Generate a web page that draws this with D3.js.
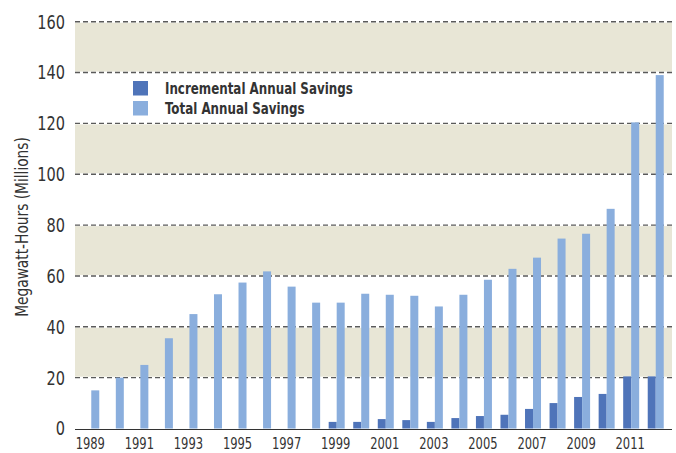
<!DOCTYPE html>
<html>
<head>
<meta charset="utf-8">
<script src="https://cdn.jsdelivr.net/npm/d3@7"></script>
<style>
  body { margin: 0; background: #fff; }
  svg text { font-family: "DejaVu Sans Condensed", "Liberation Sans Narrow", "Arial Narrow", sans-serif; fill: #333; }
</style>
</head>
<body>
<script>
var years = d3.range(1989, 2013);
var incremental = [0, 0, 0, 0, 0, 0, 0, 0, 0, 0, 2.6, 2.6, 3.7, 3.3, 2.6, 4.1, 4.9, 5.4, 7.7, 10, 12.4, 13.6, 20.5, 20.5];
var total = [15, 20, 25, 35.5, 45, 52.8, 57.4, 61.8, 55.8, 49.5, 49.5, 53, 52.6, 52.2, 48, 52.6, 58.5, 62.8, 67.2, 74.7, 76.6, 86.4, 120.4, 139];
var yTicks = [0, 20, 40, 60, 80, 100, 120, 140, 160];
var seriesNames = ["Incremental Annual Savings", "Total Annual Savings"];
var colors = ["#4f74b9", "#8aaedd"];

var width = 676, height = 453;
var plotLeft = 75, plotRight = 672;

var svg = d3.select("body").append("svg")
    .attr("width", width)
    .attr("height", height);

var x = d3.scaleBand()
    .domain(years)
    .range([79, 668])
    .padding(0);

var y = d3.scaleLinear()
    .domain([0, 160])
    .range([428.5, 21.7]);

var barW = 8;

// shaded bands
var bands = [[20, 40], [60, 80], [100, 120], [140, 160]];
svg.append("g").selectAll("rect")
    .data(bands)
  .enter().append("rect")
    .attr("x", plotLeft)
    .attr("width", plotRight - plotLeft)
    .attr("y", function(d) { return y(d[1]) + 1; })
    .attr("height", function(d) { return y(d[0]) - y(d[1]) - 2; })
    .attr("fill", "#e8e6d6");

// dashed grid lines
svg.append("g").selectAll("line")
    .data(yTicks.filter(function(d) { return d > 0; }))
  .enter().append("line")
    .attr("x1", plotLeft)
    .attr("x2", plotRight)
    .attr("y1", function(d) { return y(d); })
    .attr("y2", function(d) { return y(d); })
    .attr("stroke", "#5a5a5a")
    .attr("stroke-width", 1.4)
    .attr("stroke-dasharray", "5,3");

// bars
var groups = svg.append("g").selectAll("g")
    .data(years)
  .enter().append("g")
    .attr("transform", function(d) { return "translate(" + (x(d) + x.bandwidth() / 2) + ",0)"; });

groups.append("rect")
    .attr("x", -barW)
    .attr("width", barW)
    .attr("y", function(d, i) { return y(incremental[i]); })
    .attr("height", function(d, i) { return y(0) - y(incremental[i]); })
    .attr("fill", colors[0]);

groups.append("rect")
    .attr("x", 0)
    .attr("width", barW)
    .attr("y", function(d, i) { return y(total[i]); })
    .attr("height", function(d, i) { return y(0) - y(total[i]); })
    .attr("fill", colors[1]);

// baseline
svg.append("line")
    .attr("x1", plotLeft)
    .attr("x2", plotRight)
    .attr("y1", Math.round(y(0)) + 0.5)
    .attr("y2", Math.round(y(0)) + 0.5)
    .attr("stroke", "#333")
    .attr("stroke-width", 1.2);

// y tick labels (narrowed to match the condensed face)
svg.append("g").selectAll("text")
    .data(yTicks)
  .enter().append("text")
    .attr("transform", function(d) { return "translate(65," + y(d) + ") scale(0.85,1)"; })
    .attr("dy", "0.36em")
    .attr("text-anchor", "end")
    .attr("font-size", 19)
    .text(function(d) { return d; });

// x tick labels, every other year
svg.append("g").selectAll("text")
    .data(years.filter(function(d) { return (d - 1989) % 2 === 0; }))
  .enter().append("text")
    .attr("transform", function(d) { return "translate(" + (x(d) + x.bandwidth() / 2 - 1) + ",449) scale(0.8,1)"; })
    .attr("text-anchor", "middle")
    .attr("font-size", 16)
    .text(function(d) { return d; });

// y axis title
svg.append("text")
    .attr("transform", "translate(28,227) rotate(-90) scale(0.85,1)")
    .attr("text-anchor", "middle")
    .attr("font-size", 18)
    .text("Megawatt-Hours (Millions)");

// legend
var legend = svg.append("g").selectAll("g")
    .data(seriesNames)
  .enter().append("g")
    .attr("transform", function(d, i) { return "translate(133," + (81 + i * 20) + ")"; });

legend.append("rect")
    .attr("width", 15)
    .attr("height", 14.5)
    .attr("fill", function(d, i) { return colors[i]; });

legend.append("text")
    .attr("transform", "translate(32,7.5) scale(0.8,1)")
    .attr("dy", "0.36em")
    .attr("font-size", 16.5)
    .attr("font-weight", "bold")
    .text(function(d) { return d; });
</script>
</body>
</html>
